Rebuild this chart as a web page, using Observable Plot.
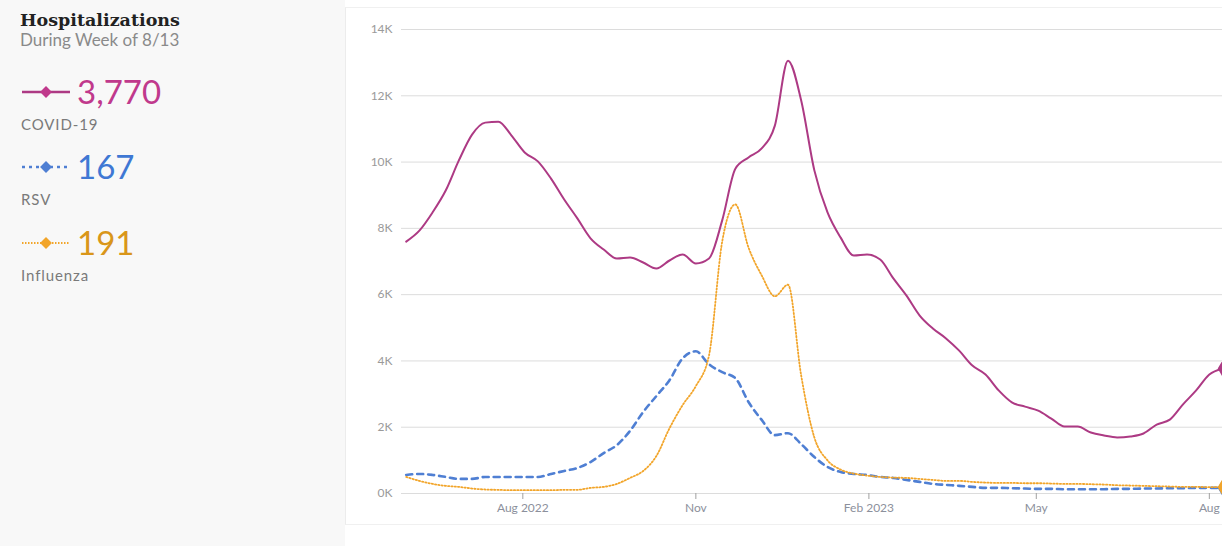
<!DOCTYPE html>
<html>
<head>
<meta charset="utf-8">
<script src="https://cdn.jsdelivr.net/npm/d3@7"></script>
<script src="https://cdn.jsdelivr.net/npm/@observablehq/plot@0.6"></script>
<style>
  html, body { margin: 0; padding: 0; width: 1222px; height: 546px; overflow: hidden; background: #ffffff; font-family: Lato, "Open Sans", sans-serif; }
  #side { position: absolute; left: 0; top: 0; width: 345px; height: 546px; background: #f8f8f8; }
  #panel { position: absolute; left: 345px; top: 7px; width: 900px; height: 516px; background: #fff; border-left: 1px solid #ececec; border-top: 1px solid #f0f0f0; border-bottom: 1px solid #f0f0f0; }
  #chart { position: absolute; left: 345px; top: 8px; }
  #legend { position: absolute; left: 0; top: 0; }
</style>
</head>
<body>
<div id="side"></div>
<div id="panel"></div>
<div id="chart"></div>
<svg id="legend" width="345" height="300"></svg>
<script>
// ---- data (weekly) ----
const dates = [
  "2022-05-31","2022-06-07","2022-06-14","2022-06-21","2022-06-28","2022-07-05","2022-07-12","2022-07-19","2022-07-26",
  "2022-08-02","2022-08-09","2022-08-16","2022-08-23","2022-08-30","2022-09-06","2022-09-13","2022-09-20","2022-09-27",
  "2022-10-04","2022-10-11","2022-10-18","2022-10-25","2022-11-01","2022-11-08","2022-11-15","2022-11-22","2022-11-29",
  "2022-12-06","2022-12-13","2022-12-20","2022-12-27","2023-01-03","2023-01-10","2023-01-17","2023-01-24","2023-01-31",
  "2023-02-07","2023-02-14","2023-02-21","2023-02-28","2023-03-07","2023-03-14","2023-03-21","2023-03-28","2023-04-04",
  "2023-04-11","2023-04-18","2023-04-25","2023-05-02","2023-05-09","2023-05-16","2023-05-23","2023-05-30","2023-06-06",
  "2023-06-13","2023-06-20","2023-06-27","2023-07-04","2023-07-11","2023-07-18","2023-07-25","2023-08-01","2023-08-08"
];
const covid = [
  7600, 7930, 8480, 9140, 10050, 10830, 11190, 11220, 10800,
  10290, 10020, 9500, 8870, 8300, 7700, 7360, 7090, 7120,
  6970, 6790, 7030, 7210, 6940, 7090, 8240, 9800, 10140,
  10410, 11100, 13060, 11860, 9750, 8480, 7720, 7180, 7210,
  7060, 6490, 5970, 5370, 4980, 4680, 4310, 3860, 3590,
  3110, 2750, 2620, 2500, 2260, 2020, 2020, 1840, 1750,
  1690, 1720, 1810, 2080, 2230, 2690, 3110, 3590, 3770
];
const rsv = [
  560, 590, 560, 500, 440, 440, 500, 500, 500,
  500, 500, 590, 680, 770, 950, 1220, 1460, 1890,
  2460, 2940, 3420, 4080, 4290, 3900, 3660, 3480, 2760,
  2220, 1760, 1820, 1490, 1100, 800, 650, 590, 560,
  500, 470, 410, 350, 290, 260, 230, 200, 170,
  170, 160, 150, 140, 140, 130, 130, 130, 130,
  140, 140, 150, 150, 160, 160, 170, 170, 167
];
const flu = [
  500, 380, 290, 230, 200, 150, 120, 110, 100,
  100, 100, 100, 110, 110, 170, 200, 290, 470,
  680, 1130, 1970, 2670, 3240, 4170, 7600, 8720, 7420,
  6580, 5950, 6300, 3560, 1690, 1000, 720, 600, 540,
  500, 480, 470, 440, 410, 380, 380, 350, 330,
  320, 320, 310, 310, 300, 290, 290, 280, 270,
  250, 240, 230, 220, 210, 200, 200, 190, 191
];
const seriesNames = ["COVID-19", "RSV", "Influenza"];
const seriesColors = ["#ad3a84", "#4f7fd3", "#f2a52a"];
const labelColors = ["#c0398c", "#3f78d4", "#d9961a"];
const latest = ["3,770", "167", "191"];
const yTicks = [0, 2000, 4000, 6000, 8000, 10000, 12000, 14000];
const xTicks = ["2022-08-01", "2022-11-01", "2023-02-01", "2023-05-01", "2023-08-01"];
const xTickLabels = ["Aug 2022", "Nov", "Feb 2023", "May", "Aug"];
const title = "Hospitalizations";
const subtitle = "During Week of 8/13";

// ---- build table ----
const valuesBy = [covid, rsv, flu];
const rows = [];
seriesNames.forEach((s, k) => {
  dates.forEach((d, i) => rows.push({series: s, date: new Date(d + "T00:00:00Z"), value: valuesBy[k][i]}));
});
const lastRows = seriesNames.map(s => rows.filter(r => r.series === s).slice(-1)[0]);
const xTickDates = xTicks.map(d => new Date(d + "T00:00:00Z"));
const xLabelMap = new Map(xTickDates.map((d, i) => [+d, xTickLabels[i]]));

const chart = Plot.plot({
  width: 877,
  height: 517,
  marginLeft: 56,
  marginRight: 0,
  marginTop: 21,
  marginBottom: 32,
  style: {fontFamily: "Lato, sans-serif", fontSize: "12px", background: "transparent", color: "#999"},
  x: {type: "utc", domain: [new Date("2022-05-28T12:00:00Z"), new Date("2023-08-08T00:00:00Z")], label: null},
  y: {domain: [0, 14000], label: null},
  color: {domain: seriesNames, range: seriesColors},
  marks: [
    Plot.gridY(yTicks, {stroke: "#dcdcdc", strokeOpacity: 1, strokeWidth: 1}),
    Plot.axisY(yTicks, {tickSize: 0, tickPadding: 9, tickFormat: d => d / 1000 + "K", fill: "#9a9a9a", fontSize: 12, label: null}),
    Plot.axisX(xTickDates, {tickSize: 6, tickPadding: 4, tickFormat: d => xLabelMap.get(+d), stroke: "#a0a0a0", fill: "#8c909c", fontSize: 12, label: null}),
    Plot.line(rows.filter(r => r.series === "RSV"), {x: "date", y: "value", stroke: seriesColors[1], strokeWidth: 2.6, strokeDasharray: "6,5", curve: "monotone-x"}),
    Plot.line(rows.filter(r => r.series === "Influenza"), {x: "date", y: "value", stroke: seriesColors[2], strokeWidth: 1.8, strokeDasharray: "1.3,2", curve: "monotone-x"}),
    Plot.line(rows.filter(r => r.series === "COVID-19"), {x: "date", y: "value", stroke: seriesColors[0], strokeWidth: 2, curve: "monotone-x"}),
    Plot.dot(lastRows, {x: "date", y: "value", fill: "series", symbol: "diamond", r: 5})
  ]
});
document.getElementById("chart").append(chart);

// ---- sidebar legend (text + icons) ----
const svg = d3.select("#legend");
svg.append("text").attr("x", 20).attr("y", 26).text(title)
  .attr("font-family", "'DejaVu Serif', serif").attr("font-weight", 700).attr("font-size", 17.5).attr("fill", "#222");
svg.append("text").attr("x", 20).attr("y", 46).text(subtitle)
  .attr("font-family", "Lato, sans-serif").attr("font-size", 17).attr("fill", "#8a8a8a");

const rowY = [92, 167, 243];
const iconDash = [null, "3,4", "1.5,1.5"];
const iconWidth = [2.5, 2.5, 1.8];
seriesNames.forEach((s, k) => {
  const cy = rowY[k];
  const g = svg.append("g");
  g.append("line").attr("x1", 22).attr("x2", 70).attr("y1", cy).attr("y2", cy)
    .attr("stroke", seriesColors[k]).attr("stroke-width", iconWidth[k])
    .attr("stroke-dasharray", iconDash[k]);
  g.append("path").attr("d", d3.symbol(d3.symbolDiamond2, 90)()).attr("transform", `translate(46,${cy})`)
    .attr("fill", k === 0 ? "#c0398c" : seriesColors[k]);
  g.append("text").attr("x", 77).attr("y", cy + 12).text(latest[k])
    .attr("font-family", "Lato, sans-serif").attr("font-size", 33).attr("fill", labelColors[k]);
  g.append("text").attr("x", 21).attr("y", cy + 38).text(s)
    .attr("font-family", "Lato, sans-serif").attr("font-size", 15).attr("letter-spacing", "0.9px").attr("fill", "#7a7a7a");
});
</script>
</body>
</html>
